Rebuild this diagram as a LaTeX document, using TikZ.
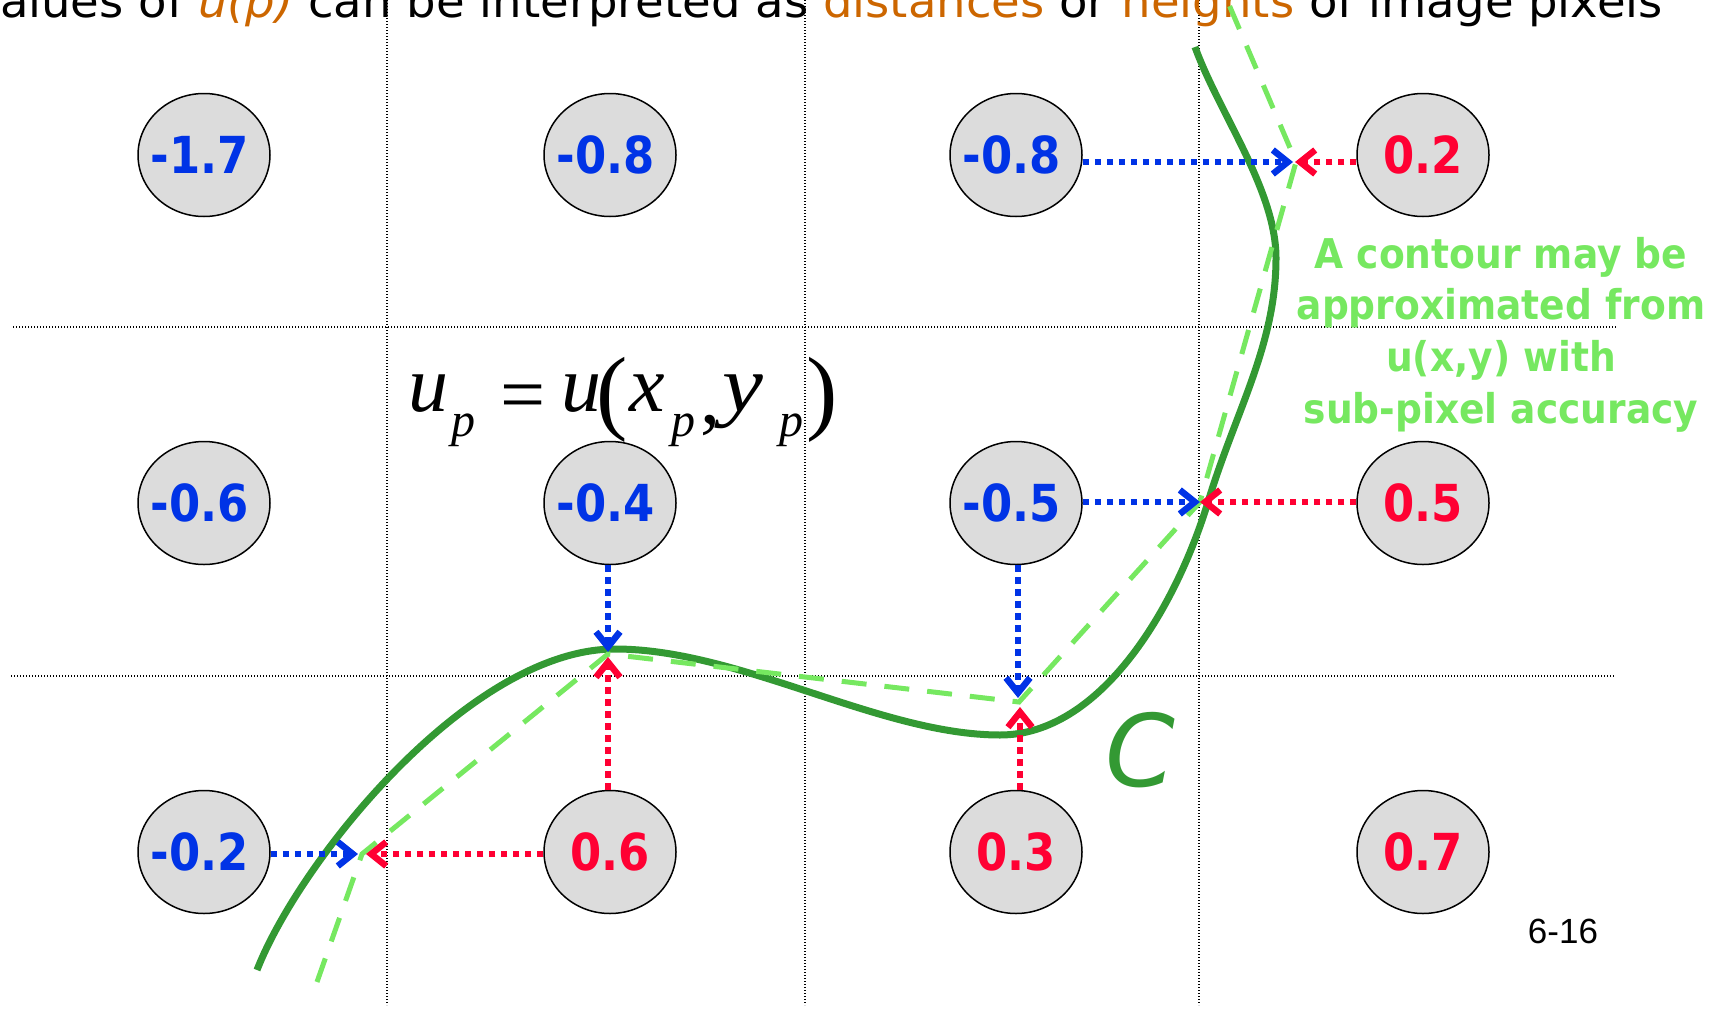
\documentclass[tikz,border=0pt]{standalone}
\usepackage{fontspec}
\setmainfont{DejaVu Sans}
\newfontfamily\tms{Liberation Serif}
\newfontfamily\arl{Liberation Sans}
\usetikzlibrary{shapes.geometric,arrows.meta,calc}
\definecolor{cblue}{RGB}{0,51,230}
\definecolor{cred}{RGB}{255,0,51}
\definecolor{dgreen}{RGB}{51,153,51}
\definecolor{lgreen}{RGB}{118,232,96}
\definecolor{corange}{RGB}{204,102,0}
\definecolor{cgray}{RGB}{220,220,220}
\newcommand\eqgl[3]{\rlap{\kern#1pt\raisebox{#2pt}{#3}}}
\newcommand\pxval[1]{\makebox[0pt]{\raisebox{-5pt}{\scalebox{0.88}[1]{\fontsize{51}{52}\selectfont\bfseries #1}}}}
\newcommand\pxvaln[1]{\pxval{#1\kern10pt}}
\begin{document}
\begin{tikzpicture}[x=1pt,y=-1pt,
 pix/.style={ellipse, draw=black, line width=1.5pt, fill=cgray, minimum width=132pt, minimum height=123pt, inner sep=0pt},
 negpix/.style={pix, text=cblue},
 pospix/.style={pix, text=cred},
 gridline/.style={line width=1.4pt, dash pattern=on 1.4pt off 1.6pt, black},
 arr/.style={line width=5.5pt, dash pattern=on 6.5pt off 5.5pt, -{Straight Barb[length=15pt,width=24pt,line width=6.5pt]}},
 barr/.style={arr, draw=cblue},
 rarr/.style={arr, draw=cred},
 contour/.style={dgreen, line width=7pt},
 approx/.style={lgreen, line width=5pt, dash pattern=on 25pt off 18pt},
]
\useasboundingbox (0,0) rectangle (1711,1009);
\clip (0,0) rectangle (1711,1009);

% grid
\draw[gridline] (387,0) -- (387,1005);
\draw[gridline] (805,0) -- (805,1005);
\draw[gridline] (1199,0) -- (1199,1005);
\draw[gridline] (13,327) -- (1617,327);
\draw[gridline] (11,676) -- (1615,676);

% title (cut off at the top, as in the reference)
\node[anchor=base east, inner sep=0pt, font=\fontsize{45}{54}\selectfont] (title) at (1663,17)
 {\scalebox{1.034}[1]{alues of \textcolor{corange}{\itshape u(p)} can be interpreted as \textcolor{corange}{distances} or \textcolor{corange}{heights} of image pixels}};

% formula
\node[anchor=base west, inner sep=0pt] (eq) at (408,411)
 {\tms\itshape\fontsize{80}{90}\selectfont
  \eqgl{0}{0}{u}%
  \eqgl{43}{-25}{\fontsize{48}{48}\selectfont p}%
  \eqgl{92}{-10}{\upshape =}%
  \eqgl{153}{0}{u}%
  \eqgl{188}{-11}{\upshape\fontsize{94}{94}\selectfont (}%
  \eqgl{221}{0}{x}%
  \eqgl{263}{-25}{\fontsize{48}{48}\selectfont p}%
  \eqgl{292}{-12}{\upshape ,}%
  \eqgl{314}{0}{\scalebox{1.15}[1]{y}}%
  \eqgl{371}{-25}{\fontsize{48}{48}\selectfont p}%
  \eqgl{398}{-11}{\upshape\fontsize{94}{94}\selectfont )}%
  \hspace*{430pt}};

% pixels
\node[negpix] (r1c1) at (204,155) {\pxvaln{-1.7}};
\node[negpix] (r1c2) at (610,155) {\pxvaln{-0.8}};
\node[negpix] (r1c3) at (1016,155) {\pxvaln{-0.8}};
\node[pospix] (r1c4) at (1423,155) {\pxval{0.2}};
\node[negpix] (r2c1) at (204,503) {\pxvaln{-0.6}};
\node[negpix] (r2c2) at (610,503) {\pxvaln{-0.4}};
\node[negpix] (r2c3) at (1016,503) {\pxvaln{-0.5}};
\node[pospix] (r2c4) at (1423,503) {\pxval{0.5}};
\node[negpix] (r3c1) at (204,852) {\pxvaln{-0.2}};
\node[pospix] (r3c2) at (610,852) {\pxval{0.6}};
\node[pospix] (r3c3) at (1016,852) {\pxval{0.3}};
\node[pospix] (r3c4) at (1423,852) {\pxval{0.7}};

% note
\node[anchor=north, inner sep=0pt, text=lgreen, font=\bfseries\fontsize{41}{51.7}\selectfont] (note) at (1501,231.8)
 {\scalebox{0.917}[1]{\begin{tabular}{@{}c@{}}A contour may be\\approximated from\\u(x,y) with\\sub-pixel accuracy\end{tabular}}};

% contour C
\draw[contour] (257,970) .. controls (300,860) and (470,649) .. (615,649)
  .. controls (740,649) and (880,735) .. (1000,735)
  .. controls (1100,735) and (1175,610) .. (1208,502)
  .. controls (1236,410) and (1276,345) .. (1276,258)
  .. controls (1276,190) and (1219,113) .. (1195,47);

% approximation points
\coordinate (c0) at (317,982);
\coordinate (pA) at (362,854);
\coordinate (pB) at (608,654);
\coordinate (pC) at (1019,702);
\coordinate (pD) at (1200,502);
\coordinate (pE) at (1296,162);
\coordinate (c6) at (1227,0);
\coordinate (pA1) at (358,854);
\coordinate (pA2) at (366,854);
\coordinate (pB1) at (608,652);
\coordinate (pB2) at (608,657);
\coordinate (pC1) at (1018,698);
\coordinate (pC2) at (1020,707);
\coordinate (pE1) at (1293,162);
\coordinate (pE2) at (1295,162);

\draw[approx] (c0) -- (pA) -- (pB) -- (pC) -- (pD) -- (pE) -- (c6);

% arrows
\draw[barr] (r3c1.east |- pA1) -- (pA1);
\draw[rarr] (r3c2.west |- pA2) -- (pA2);
\draw[barr] (r2c2.south -| pB1) -- (pB1);
\draw[rarr] (r3c2.north -| pB2) -- (pB2);
\draw[barr] (r2c3.south -| pC1) -- (pC1);
\draw[rarr] (r3c3.north -| pC2) -- (pC2);
\draw[barr] (r2c3.east |- pD) -- (pD);
\draw[rarr] (r2c4.west |- pD) -- (pD);
\draw[barr] (r1c3.east |- pE1) -- (pE1);
\draw[rarr] (r1c4.west |- pE2) -- (pE2);

% labels
\node[text=dgreen, font=\itshape\fontsize{100}{100}\selectfont, inner sep=0pt] (clabel) at (1140,750) {C};
\node[font=\arl\fontsize{35}{40}\selectfont, inner sep=0pt] (pg) at (1563,931) {6-16};
\end{tikzpicture}
\end{document}
